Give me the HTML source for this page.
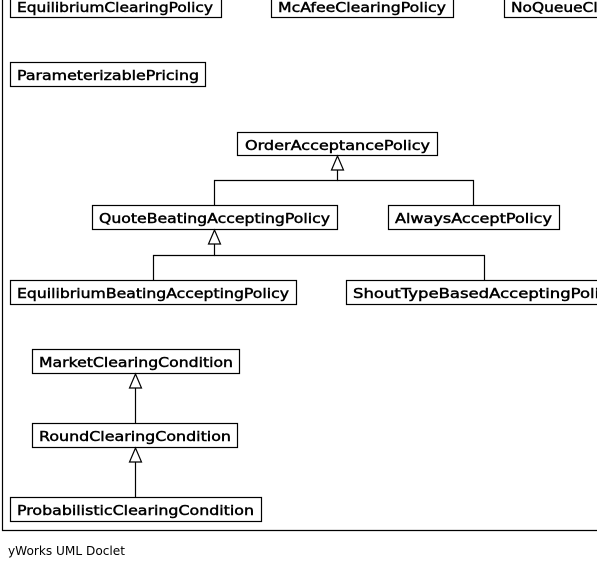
<!DOCTYPE html>
<html><head><style>
html,body{margin:0;padding:0;background:#fff;width:597px;height:568px;overflow:hidden}
svg text{font-family:"DejaVu Sans","Liberation Sans",sans-serif;font-size:13px;font-weight:normal;fill:#000;stroke:#000;stroke-width:0.45}
</style></head><body>
<svg width="597" height="568" xmlns="http://www.w3.org/2000/svg">
<g fill="#fff" stroke="#000" stroke-width="1.2">
<polyline points="2.5,0 2.5,530.5 597,530.5" fill="none"/>
<rect x="10.5" y="-6.5" width="211" height="24"/>
<rect x="271.5" y="-6.5" width="182" height="24"/>
<rect x="504.5" y="-6.5" width="120" height="24"/>
<rect x="10.5" y="62.5" width="195" height="24"/>
<rect x="237.5" y="132.5" width="200" height="23"/>
<rect x="92.5" y="205.5" width="245" height="24"/>
<rect x="388.5" y="205.5" width="171" height="24"/>
<rect x="10.5" y="280.5" width="286" height="24"/>
<rect x="346.5" y="280.5" width="280" height="24"/>
<rect x="32.5" y="349.5" width="207" height="24"/>
<rect x="32.5" y="423.5" width="205" height="24"/>
<rect x="10.5" y="497.5" width="251" height="24"/>
<polyline points="337.5,170 337.5,180.5 214.5,180.5 214.5,205" fill="none"/>
<polyline points="337.5,180.5 473.5,180.5 473.5,205" fill="none"/>
<polygon points="337.5,156 331.5,170 343.5,170"/>
<polyline points="214.5,244 214.5,255.5 153.5,255.5 153.5,280" fill="none"/>
<polyline points="214.5,255.5 484.5,255.5 484.5,280" fill="none"/>
<polygon points="214.5,230 208.5,244 220.5,244"/>
<line x1="135.5" y1="388" x2="135.5" y2="423"/>
<polygon points="135.5,374 129.5,388 141.5,388"/>
<line x1="135.5" y1="462" x2="135.5" y2="497"/>
<polygon points="135.5,448 129.5,462 141.5,462"/>
</g>
<text x="17" y="12" textLength="196" lengthAdjust="spacingAndGlyphs">EquilibriumClearingPolicy</text>
<text x="278" y="12" textLength="168" lengthAdjust="spacingAndGlyphs">McAfeeClearingPolicy</text>
<text x="511" y="12" textLength="180" lengthAdjust="spacingAndGlyphs">NoQueueClearingPolicy</text>
<text x="17" y="80" textLength="182" lengthAdjust="spacingAndGlyphs">ParameterizablePricing</text>
<text x="245" y="150" textLength="185" lengthAdjust="spacingAndGlyphs">OrderAcceptancePolicy</text>
<text x="99" y="223" textLength="231" lengthAdjust="spacingAndGlyphs">QuoteBeatingAcceptingPolicy</text>
<text x="395" y="223" textLength="157" lengthAdjust="spacingAndGlyphs">AlwaysAcceptPolicy</text>
<text x="17" y="298" textLength="272" lengthAdjust="spacingAndGlyphs">EquilibriumBeatingAcceptingPolicy</text>
<text x="353" y="298" textLength="265" lengthAdjust="spacingAndGlyphs">ShoutTypeBasedAcceptingPolicy</text>
<text x="39" y="367" textLength="194" lengthAdjust="spacingAndGlyphs">MarketClearingCondition</text>
<text x="39" y="441" textLength="192" lengthAdjust="spacingAndGlyphs">RoundClearingCondition</text>
<text x="17" y="515" textLength="237" lengthAdjust="spacingAndGlyphs">ProbabilisticClearingCondition</text>
<text x="8" y="555" style="font-size:12px;stroke:none" textLength="117" lengthAdjust="spacingAndGlyphs">yWorks UML Doclet</text>
</svg>
</body></html>
